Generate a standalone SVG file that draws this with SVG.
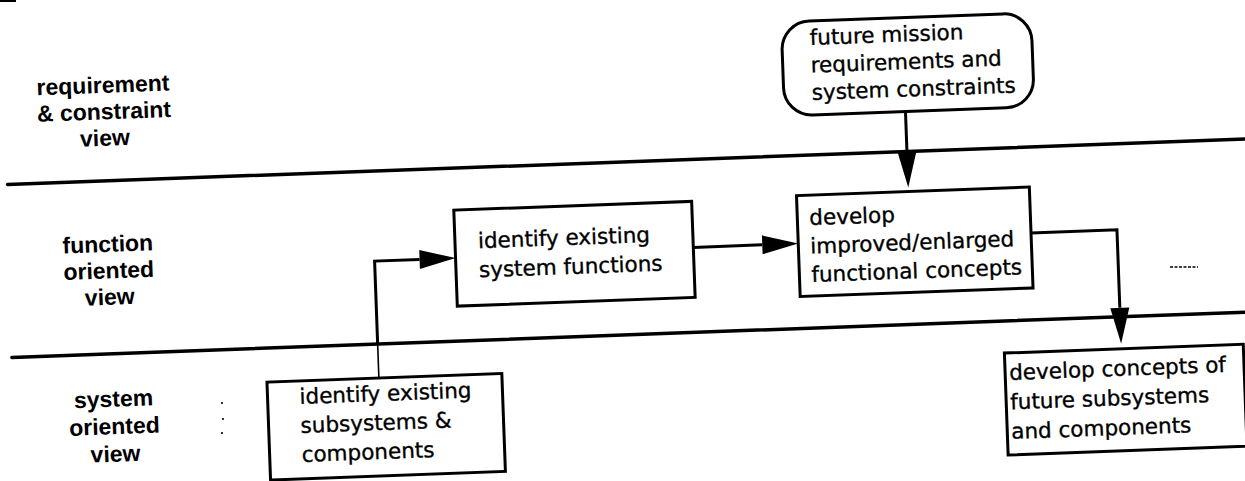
<svg xmlns="http://www.w3.org/2000/svg" width="1245" height="481" viewBox="0 0 1245 481">
  <style>
    .lane { fill: none; stroke: #000; stroke-width: 3.5; stroke-linecap: round; }
    .box { fill: #fff; stroke: #000; stroke-width: 3; }
    .wire { fill: none; stroke: #000; stroke-width: 3; }
    .thin { fill: none; stroke: #000; stroke-width: 1.6; }
    .lbl { font-family: "Liberation Sans", Arial, sans-serif; font-weight: bold; font-size: 23px; text-anchor: middle; fill: #000; }
    .txt { font-family: "DejaVu Sans", "Liberation Sans", sans-serif; font-size: 21.5px; fill: #000; stroke: #000; stroke-width: 0.35; }
  </style>
  <defs>
    <marker id="head" markerUnits="userSpaceOnUse" markerWidth="40" markerHeight="20" refX="0" refY="9.5" orient="auto" overflow="visible">
      <path d="M0,0 L36,9.5 L0,19 Z" fill="#000"/>
    </marker>
  </defs>

  <rect x="0" y="0" width="16" height="2" fill="#000"/>

  <g id="sheet" transform="rotate(-2.1 622 240)">
    <!-- swim-lane separators -->
    <g id="lanes">
      <line class="lane" x1="10" y1="162" x2="1262" y2="162"/>
      <line class="lane" x1="8" y1="335" x2="1262" y2="335"/>
    </g>

    <!-- lane titles -->
    <g id="lane-requirement">
      <text class="lbl" x="109" y="74"><tspan x="109">requirement</tspan><tspan x="109" dy="26.5">&amp; constraint</tspan><tspan x="109" dy="26.5">view</tspan></text>
    </g>
    <g id="lane-function">
      <text class="lbl" x="108" y="233"><tspan x="108">function</tspan><tspan x="108" dy="26.5">oriented</tspan><tspan x="108" dy="26.5">view</tspan></text>
    </g>
    <g id="lane-system">
      <text class="lbl" x="108" y="388"><tspan x="108">system</tspan><tspan x="108" dy="27.5">oriented</tspan><tspan x="108" dy="27.5">view</tspan></text>
    </g>

    <!-- connectors -->
    <g id="connectors">
      <path class="thin" d="M374,369 V335"/>
      <path class="wire" d="M374,336 V252 H419" marker-end="url(#head)"/>
      <path class="wire" d="M693,250 H762" marker-end="url(#head)"/>
      <path class="wire" d="M910,121 V162" marker-end="url(#head)"/>
      <path class="wire" d="M1031,248 H1117 V326" marker-end="url(#head)"/>
    </g>

    <!-- process nodes -->
    <g id="node-mission">
      <rect class="box" x="789" y="28" width="250" height="94" rx="28" ry="28"/>
      <text class="txt" x="817" y="52"><tspan x="817">future mission</tspan><tspan x="817" dy="27.5">requirements and</tspan><tspan x="817" dy="27.5">system constraints</tspan></text>
    </g>
    <g id="node-functions">
      <rect class="box" x="455" y="204" width="238" height="96"/>
      <text class="txt" x="478" y="243"><tspan x="478">identify existing</tspan><tspan x="478" dy="29">system functions</tspan></text>
    </g>
    <g id="node-concepts">
      <rect class="box" x="798" y="202" width="233" height="101"/>
      <text class="txt" x="810" y="232"><tspan x="810">develop</tspan><tspan x="810" dy="28.5">improved/enlarged</tspan><tspan x="810" dy="28.5">functional concepts</tspan></text>
    </g>
    <g id="node-subsystems">
      <rect class="box" x="262" y="369" width="235" height="98"/>
      <text class="txt" x="294" y="392"><tspan x="294">identify existing</tspan><tspan x="294" dy="29">subsystems &amp;</tspan><tspan x="294" dy="29">components</tspan></text>
    </g>
    <g id="node-future">
      <rect class="box" x="1000" y="367" width="239" height="102"/>
      <text class="txt" x="1004" y="394"><tspan x="1004">develop concepts of</tspan><tspan x="1004" dy="29.5">future subsystems</tspan><tspan x="1004" dy="29.5">and components</tspan></text>
    </g>
  </g>

  <!-- stray marks -->
  <g id="marks" fill="#000">
    <circle cx="222" cy="403" r="1.1"/>
    <circle cx="223" cy="419" r="1.1"/>
    <circle cx="222" cy="433" r="1.1"/>
    <path d="M1170,267 H1198" stroke="#000" stroke-width="1.5" stroke-dasharray="3 1.5"/>
  </g>
</svg>
